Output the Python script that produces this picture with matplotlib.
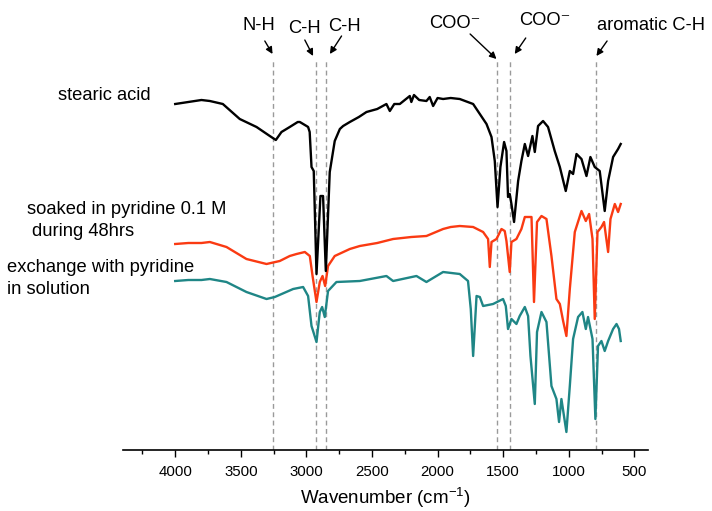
import matplotlib.pyplot as plt

plt.rcParams['font.family'] = ['Liberation Sans', 'DejaVu Sans']
plt.rcParams['mathtext.fontset'] = 'custom'
plt.rcParams['mathtext.rm'] = 'Liberation Sans'
plt.rcParams['mathtext.it'] = 'Liberation Sans'

# stearic acid (top, black)
wn_stearic = [4000, 3900, 3800, 3736, 3637, 3508, 3380, 3279, 3233, 3190,
              3127, 3066, 3050, 2999, 2987, 2975, 2961, 2944, 2923, 2893,
              2873, 2852, 2822, 2784, 2745, 2720, 2669, 2600, 2542, 2460,
              2390, 2364, 2330, 2288, 2250, 2212, 2200, 2180, 2140, 2085,
              2060, 2034, 2000, 1958, 1900, 1831, 1729, 1678, 1627, 1589,
              1564, 1543, 1521, 1493, 1475, 1463, 1450, 1437, 1417, 1386,
              1361, 1335, 1310, 1277, 1259, 1234, 1196, 1158, 1107, 1068,
              1023, 992, 967, 941, 903, 865, 835, 802, 764, 726,
              700, 662, 624, 604]
t_stearic = [346, 348, 350, 349, 346, 331, 323, 314, 310, 318,
             323, 328, 328, 324, 323, 318, 283, 279, 176, 254,
             254, 179, 278, 309, 321, 324, 328, 333, 338, 341,
             346, 339, 346, 346, 350, 354, 348, 355, 350, 349,
             353, 344, 352, 351, 352, 351, 346, 336, 326, 313,
             289, 243, 283, 308, 299, 253, 256, 246, 228, 269,
             289, 306, 294, 314, 298, 324, 329, 323, 299, 283,
             259, 279, 276, 296, 291, 274, 293, 283, 279, 239,
             269, 293, 301, 306]

# soaked in pyridine 0.1 M (middle, red)
wn_soaked = [4000, 3900, 3800, 3736, 3609, 3457, 3304, 3203, 3127, 3075,
             3012, 2974, 2953, 2923, 2898, 2877, 2857, 2835, 2784, 2669,
             2593, 2460, 2339, 2200, 2085, 1958, 1900, 1831, 1729, 1653,
             1615, 1602, 1589, 1551, 1513, 1488, 1475, 1450, 1437, 1399,
             1361, 1335, 1284, 1265, 1242, 1208, 1170, 1132, 1094, 1068,
             1043, 1018, 992, 954, 903, 870, 845, 819, 802, 781,
             751, 731, 700, 682, 649, 624, 604]
t_soaked = [206, 207, 207, 208, 203, 191, 186, 189, 194, 196,
            198, 194, 174, 148, 168, 174, 164, 184, 194, 201,
            204, 207, 211, 213, 214, 221, 223, 224, 223, 218,
            211, 183, 208, 211, 221, 219, 209, 178, 208, 211,
            221, 233, 233, 148, 228, 234, 231, 194, 151, 146,
            129, 114, 161, 218, 239, 229, 236, 211, 131, 218,
            223, 228, 198, 231, 246, 238, 246]

# exchange with pyridine in solution (bottom, teal)
wn_exchange = [4000, 3900, 3800, 3736, 3609, 3457, 3304, 3241, 3101, 3025,
               2987, 2961, 2949, 2923, 2898, 2880, 2860, 2835, 2771, 2593,
               2390, 2339, 2161, 2085, 1958, 1831, 1768, 1747, 1729, 1703,
               1678, 1653, 1577, 1501, 1480, 1463, 1437, 1399, 1374, 1335,
               1310, 1292, 1259, 1242, 1208, 1170, 1132, 1094, 1074, 1056,
               1018, 992, 967, 929, 896, 870, 853, 819, 797, 777,
               751, 726, 700, 662, 636, 617, 604]
t_exchange = [169, 170, 170, 171, 168, 158, 151, 153, 161, 163,
              154, 124, 119, 108, 138, 143, 133, 159, 168, 169,
              174, 169, 174, 168, 178, 176, 169, 141, 94, 154,
              153, 144, 146, 151, 144, 121, 131, 126, 134, 143,
              134, 94, 46, 118, 138, 128, 64, 51, 28, 51,
              18, 64, 111, 133, 138, 121, 133, 111, 31, 104,
              109, 99, 109, 121, 126, 121, 109]

# band markers
peaks = [3254, 2924, 2848, 1544, 1448, 795]

fig = plt.figure(figsize=(7.12, 5.11), dpi=100)
ax = fig.add_axes([123 / 712, 61 / 511, 525 / 712, 450 / 511])

ax.vlines(peaks, 0, 390, colors='#9a9a9a', linestyles=(0, (3.5, 2.5)), lw=1, zorder=1)

ax.plot(wn_stearic, t_stearic, color='black', lw=1.7, zorder=3)
ax.plot(wn_soaked, t_soaked, color='#fa3a12', lw=1.7, zorder=2)
ax.plot(wn_exchange, t_exchange, color='#1f8686', lw=1.7, zorder=2)

ax.set_xlim(4398, 396)
ax.set_ylim(0, 450)
ax.set_xticks([4000, 3500, 3000, 2500, 2000, 1500, 1000, 500])
ax.set_xticks([4250, 3750, 3250, 2750, 2250, 1750, 1250, 750], minor=True)
ax.tick_params(axis='x', which='major', length=5, width=1, labelsize=10.8, pad=6)
ax.tick_params(axis='x', which='minor', length=3, width=1)
ax.set_yticks([])
for side in ['left', 'top', 'right']:
    ax.spines[side].set_visible(False)
ax.spines['bottom'].set_linewidth(1.2)

ax.set_xlabel('Wavenumber (cm$^{-1}$)', fontsize=13.5)
ax.xaxis.label.set_va('center')
ax.xaxis.set_label_coords(0.5, -0.106)

# sample labels
fs = 13.2
ax.text(4895, 355, 'stearic acid', fontsize=fs, va='center', ha='left')
ax.text(5131, 241, 'soaked in pyridine 0.1 M', fontsize=fs, va='center', ha='left')
ax.text(5093, 218, 'during 48hrs', fontsize=fs, va='center', ha='left')
ax.text(5283, 182, 'exchange with pyridine', fontsize=fs, va='center', ha='left')
ax.text(5283, 160, 'in solution', fontsize=fs, va='center', ha='left')

# band labels with arrows
arrow = dict(arrowstyle='-|>', color='black', lw=1, mutation_scale=10, shrinkA=0, shrinkB=0)
labels = [('N-H', 3364, 424, (3317, 409), (3258, 396)),
          ('C-H', 3018, 421, (3012, 410), (2949, 394)),
          ('C-H', 2707, 423, (2732, 414), (2821, 396)),
          ('COO\u207b', 1870, 426, (1752, 416), (1551, 391)),
          ('COO\u207b', 1185, 429, (1328, 412), (1412, 396)),
          ('aromatic C-H', 375, 424, (708, 409), (789, 394))]
for txt, tx, ty, start, tip in labels:
    ax.text(tx, ty, txt, fontsize=fs, ha='center', va='center')
    ax.annotate('', xy=tip, xytext=start, arrowprops=arrow)

fig.savefig('out.png', dpi=100)
